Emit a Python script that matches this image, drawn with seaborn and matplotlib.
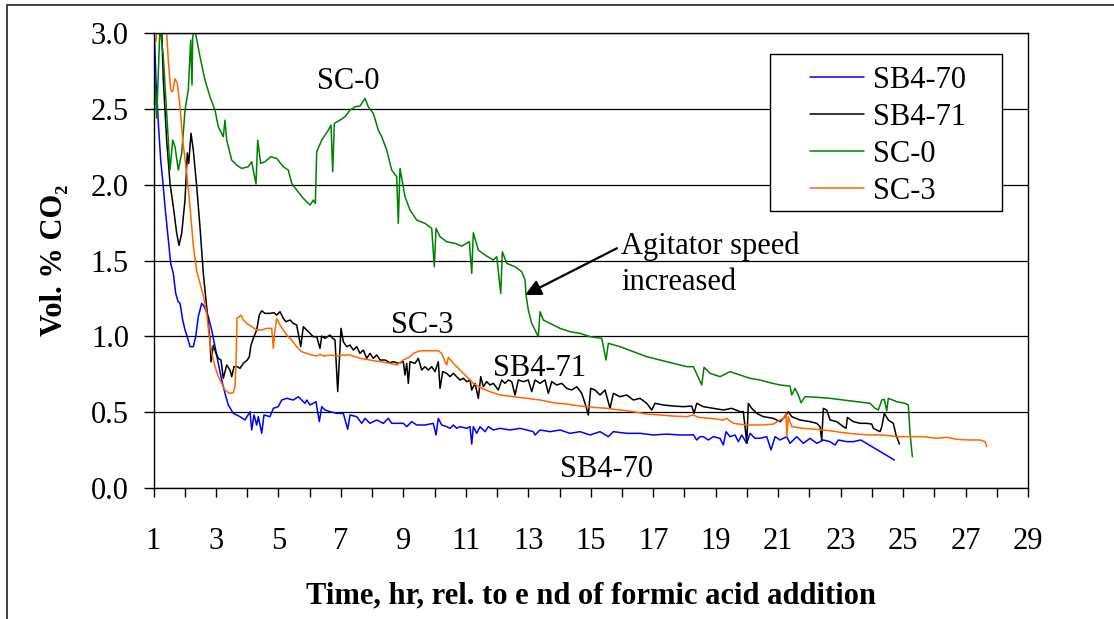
import numpy as np
import pandas as pd
import matplotlib
matplotlib.use("Agg")
import matplotlib.pyplot as plt
import seaborn as sns
from matplotlib.patches import Rectangle
from matplotlib.legend_handler import HandlerLine2D

# ---------------- data ----------------
sb470_t = [1.0, 1.080, 1.154, 1.231, 1.295, 1.368, 1.474, 1.551, 1.634, 1.711, 1.785, 1.849, 1.935,
           2.009, 2.082, 2.169, 2.274, 2.351, 2.434, 2.543, 2.627, 2.755, 2.864, 2.969, 3.075, 3.184,
           3.289, 3.395, 3.555, 3.770, 3.930, 4.090, 4.144, 4.218, 4.304, 4.356, 4.465, 4.538, 4.730,
           4.836, 4.996, 5.105, 5.265, 5.476, 5.637, 5.745, 5.851, 5.906, 6.011, 6.203, 6.309, 6.386,
           6.492, 6.652, 6.866, 7.078, 7.218, 7.292, 7.507, 7.667, 7.772, 7.932, 8.147, 8.358, 8.518,
           8.627, 8.839, 8.999, 9.107, 9.268, 9.428, 9.694, 9.959, 10.046, 10.119, 10.228, 10.389,
           10.494, 10.600, 10.709, 10.814, 11.029, 11.134, 11.189, 11.240, 11.349, 11.455, 11.615,
           11.720, 11.881, 12.095, 12.415, 12.736, 13.161, 13.216, 13.376, 13.696, 14.016, 14.336,
           14.657, 14.977, 15.297, 15.563, 15.723, 16.152, 16.578, 17.004, 17.433, 17.859, 18.179,
           18.285, 18.393, 18.499, 18.605, 18.765, 18.925, 19.140, 19.245, 19.332, 19.460, 19.620,
           19.726, 19.834, 19.994, 20.100, 20.260, 20.420, 20.635, 20.773, 20.901, 21.061, 21.275,
           21.381, 21.595, 21.807, 22.021, 22.236, 22.447, 22.662, 22.822, 22.928, 23.197, 23.408,
           23.645, 24.721]
sb470_v = [3.15, 2.69, 2.41, 2.16, 2.03, 1.855, 1.635, 1.48, 1.415, 1.283, 1.23, 1.217, 1.107,
           1.041, 0.997, 0.931, 0.931, 0.997, 1.129, 1.217, 1.195, 1.129, 1.041, 0.931, 0.821, 0.711,
           0.623, 0.546, 0.491, 0.469, 0.447, 0.502, 0.381, 0.48, 0.414, 0.469, 0.359, 0.48, 0.469,
           0.524, 0.535, 0.579, 0.59, 0.579, 0.601, 0.579, 0.557, 0.579, 0.546, 0.568, 0.436, 0.535,
           0.513, 0.502, 0.491, 0.491, 0.385, 0.48, 0.469, 0.425, 0.458, 0.425, 0.447, 0.425, 0.458,
           0.425, 0.425, 0.425, 0.403, 0.436, 0.414, 0.414, 0.425, 0.348, 0.458, 0.414, 0.403,
           0.392, 0.414, 0.392, 0.403, 0.392, 0.403, 0.288, 0.403, 0.359, 0.403, 0.37,
           0.403, 0.381, 0.392, 0.381, 0.392, 0.37, 0.348, 0.381, 0.37, 0.381, 0.359,
           0.37, 0.348, 0.37, 0.337, 0.37, 0.359, 0.359, 0.348, 0.354, 0.348, 0.348,
           0.35, 0.315, 0.337, 0.337, 0.315, 0.337, 0.326, 0.282, 0.37, 0.337, 0.348,
           0.304, 0.348, 0.293, 0.359, 0.326, 0.326, 0.337, 0.249, 0.337, 0.315, 0.337,
           0.293, 0.337, 0.293, 0.326, 0.293, 0.315, 0.304, 0.282, 0.315, 0.304, 0.304,
           0.315, 0.183]

sb471_t = [1.0, 1.26, 1.314, 1.423, 1.528, 1.634, 1.743, 1.817, 1.903, 2.009, 2.082, 2.127, 2.201,
           2.274, 2.383, 2.489, 2.595, 2.703, 2.809, 2.841, 2.915, 3.001, 3.075, 3.161, 3.235, 3.344,
           3.450, 3.504, 3.578, 3.683, 3.770, 3.875, 4.003, 4.068, 4.122, 4.196, 4.304, 4.388, 4.465,
           4.570, 4.730, 4.858, 4.945, 5.051, 5.156, 5.243, 5.371, 5.476, 5.585, 5.713, 5.797, 5.906,
           6.011, 6.117, 6.226, 6.331, 6.386, 6.492, 6.652, 6.738, 6.812, 6.898, 7.004, 7.078, 7.186,
           7.292, 7.398, 7.507, 7.612, 7.718, 7.827, 7.932, 8.038, 8.147, 8.253, 8.413, 8.573, 8.679,
           8.839, 8.999, 9.053, 9.107, 9.159, 9.213, 9.373, 9.479, 9.588, 9.694, 9.799, 9.908, 10.014,
           10.119, 10.174, 10.260, 10.389, 10.494, 10.600, 10.709, 10.814, 10.920, 11.029, 11.134,
           11.189, 11.295, 11.400, 11.477, 11.560, 11.669, 11.775, 11.881, 12.041, 12.149, 12.255,
           12.361, 12.470, 12.575, 12.681, 12.841, 13.001, 13.110, 13.216, 13.376, 13.536, 13.642,
           13.751, 13.911, 14.071, 14.231, 14.391, 14.551, 14.711, 14.817, 14.922, 14.999, 15.137,
           15.297, 15.457, 15.617, 15.723, 15.938, 16.152, 16.364, 16.578, 16.792, 16.952, 17.058,
           17.324, 17.644, 17.964, 18.233, 18.307, 18.393, 18.605, 18.925, 19.245, 19.514, 19.780,
           19.885, 19.940, 19.994, 20.045, 20.154, 20.314, 20.526, 20.846, 21.061, 21.221, 21.326,
           21.435, 21.701, 22.021, 22.236, 22.341, 22.396, 22.447, 22.556, 22.662, 22.876, 23.088,
           23.175, 23.216, 23.408, 23.623, 23.837, 23.997, 24.048, 24.262, 24.318, 24.400, 24.528,
           24.688, 24.775, 24.881]
sb471_v = [3.3, 3.05, 2.69, 2.29, 2.01, 1.855, 1.68, 1.60, 1.68, 1.90, 2.21, 2.14, 2.34,
           2.23, 1.99, 1.72, 1.415, 1.195, 0.975, 0.83, 0.94, 0.887, 0.854, 0.843, 0.722, 0.81,
           0.777, 0.733, 0.799, 0.799, 0.788, 0.821, 0.843, 0.865, 0.942, 0.986, 1.041, 1.14, 1.168,
           1.151, 1.151, 1.155, 1.14, 1.162, 1.118, 1.096, 1.107, 1.085, 1.074, 0.931, 1.063, 1.041,
           1.019, 0.997, 0.997, 0.92, 1.001, 0.986, 1.008, 0.986, 0.975, 0.634, 1.052, 0.964, 0.931,
           0.942, 0.909, 0.931, 0.887, 0.909, 0.854, 0.887, 0.854, 0.876, 0.843, 0.843, 0.825, 0.832,
           0.821, 0.832, 0.744, 0.821, 0.689, 0.832, 0.821, 0.854, 0.777, 0.799, 0.777, 0.799, 0.766,
           0.832, 0.656, 0.766, 0.755, 0.733, 0.755, 0.733, 0.711, 0.722, 0.70, 0.711,
           0.645, 0.689, 0.59, 0.733, 0.667, 0.70, 0.678, 0.689, 0.645, 0.711, 0.689,
           0.711, 0.70, 0.612, 0.711, 0.70, 0.711, 0.634, 0.711, 0.689, 0.711, 0.623,
           0.70, 0.678, 0.689, 0.656, 0.645, 0.667, 0.623, 0.557, 0.48, 0.656, 0.645,
           0.612, 0.645, 0.524, 0.623, 0.601, 0.612, 0.579, 0.59, 0.557, 0.513, 0.557,
           0.546, 0.539, 0.535, 0.539, 0.491, 0.557, 0.535, 0.524, 0.513, 0.524, 0.502,
           0.502, 0.403, 0.293, 0.557, 0.524, 0.491, 0.469, 0.458, 0.436, 0.469, 0.502,
           0.469, 0.447, 0.436, 0.425, 0.403, 0.315, 0.524, 0.513, 0.447, 0.436, 0.403,
           0.392, 0.464, 0.436, 0.425, 0.425, 0.42, 0.392, 0.37, 0.403, 0.491, 0.447,
           0.425, 0.348, 0.288]

sc0_t = [1.0, 1.016, 1.102, 1.208, 1.314, 1.474, 1.528, 1.615, 1.688, 1.794, 1.903, 2.009, 2.114,
         2.191, 2.233, 2.255, 2.329, 2.489, 2.649, 2.809, 2.969, 3.075, 3.235, 3.289, 3.344, 3.504,
         3.664, 3.824, 4.035, 4.144, 4.282, 4.336, 4.432, 4.570, 4.753, 4.945, 5.156, 5.316, 5.425,
         5.585, 5.797, 6.011, 6.117, 6.181, 6.226, 6.386, 6.597, 6.684, 6.738, 6.789, 6.972, 7.132,
         7.292, 7.452, 7.612, 7.772, 7.878, 8.038, 8.198, 8.307, 8.467, 8.627, 8.787, 8.838, 8.893,
         9.053, 9.213, 9.428, 9.694, 9.908, 9.991, 10.046, 10.174, 10.389, 10.654, 10.869, 11.112,
         11.189, 11.240, 11.400, 11.615, 11.881, 11.989, 12.118, 12.169, 12.310, 12.575, 12.790,
         12.896, 12.928, 13.001, 13.110, 13.216, 13.322, 13.376, 13.482, 13.696, 14.016, 14.336,
         14.657, 14.977, 15.352, 15.489, 15.563, 15.938, 16.364, 16.792, 17.433, 18.073, 18.285,
         18.554, 18.627, 18.820, 19.140, 19.460, 19.780, 20.100, 20.420, 20.740, 21.061, 21.381,
         21.435, 21.541, 21.646, 21.733, 21.861, 22.236, 22.662, 23.088, 23.517, 23.943, 24.103,
         24.209, 24.318, 24.400, 24.477, 24.528, 24.797, 25.063, 25.169, 25.223, 25.297]
sc0_v = [2.95, 2.823, 2.44, 3.05, 2.845, 2.295, 2.097, 2.295, 2.251, 2.097, 2.209, 2.493, 2.625,
         2.955, 2.658, 2.977, 3.02, 2.845, 2.691, 2.581, 2.493, 2.383, 2.317, 2.427, 2.295, 2.163,
         2.130, 2.108, 2.119, 2.152, 2.005, 2.295, 2.141, 2.152, 2.185, 2.174, 2.119, 2.097, 2.009,
         1.965, 1.910, 1.866, 1.899, 1.877, 2.218, 2.295, 2.361, 2.394, 2.086, 2.405, 2.427, 2.449,
         2.493, 2.515, 2.520, 2.570, 2.515, 2.471, 2.361, 2.317, 2.229, 2.097, 2.053, 1.745, 2.108,
         1.921, 1.833, 1.767, 1.745, 1.712, 1.459, 1.712, 1.657, 1.624, 1.613, 1.595, 1.624,
         1.415, 1.683, 1.569, 1.536, 1.503, 1.525, 1.283, 1.558, 1.481, 1.459, 1.426,
         1.371, 1.272, 1.173, 1.085, 1.041, 0.997, 1.162, 1.107, 1.085, 1.052, 1.030,
         1.019, 0.997, 0.986, 0.843, 0.953, 0.931, 0.898, 0.865, 0.832, 0.799, 0.799,
         0.678, 0.795, 0.755, 0.733, 0.766, 0.744, 0.722, 0.711, 0.693, 0.678, 0.671,
         0.612, 0.656, 0.612, 0.561, 0.601, 0.597, 0.590, 0.579, 0.568, 0.557, 0.524,
         0.513, 0.579, 0.583, 0.508, 0.590, 0.568, 0.557, 0.546, 0.359, 0.205]

sc3_t = [1.0, 1.08, 1.15, 1.35, 1.423, 1.474, 1.551, 1.615, 1.688, 1.762, 1.849, 1.935, 2.063,
         2.169, 2.274, 2.383, 2.489, 2.595, 2.703, 2.787, 2.864, 2.969, 3.075, 3.184, 3.289, 3.427,
         3.555, 3.610, 3.642, 3.674, 3.747, 3.802, 3.875, 3.984, 4.144, 4.304, 4.465, 4.625, 4.785,
         4.836, 4.891, 4.945, 5.051, 5.156, 5.265, 5.425, 5.585, 5.745, 5.906, 6.066, 6.226, 6.331,
         6.437, 6.652, 6.866, 7.026, 7.292, 7.612, 7.932, 8.253, 8.573, 8.787, 8.999, 9.213, 9.319,
         9.533, 9.853, 10.119, 10.228, 10.334, 10.389, 10.440, 10.600, 10.814, 11.029, 11.240,
         11.509, 11.775, 12.095, 12.521, 12.950, 13.376, 13.802, 14.231, 14.657, 15.082, 15.511,
         15.938, 16.364, 16.792, 17.219, 17.644, 18.073, 18.285, 18.445, 18.820, 19.245, 19.352,
         19.565, 19.994, 20.526, 20.846, 21.061, 21.166, 21.253, 21.275, 21.326, 21.435, 21.807,
         22.236, 22.662, 23.088, 23.517, 23.943, 24.368, 24.797, 25.223, 25.649, 26.078, 26.398,
         26.718, 27.144, 27.464, 27.625, 27.679]
sc3_v = [2.92, 2.95, 3.1, 3.1, 3.0, 2.82, 2.625, 2.614, 2.70, 2.67, 2.515, 2.295, 2.075,
         1.855, 1.60, 1.43, 1.349, 1.27, 1.15, 0.997, 0.887, 0.799, 0.733, 0.689, 0.645, 0.623,
         0.627, 0.667, 0.821, 1.118, 1.129, 1.14, 1.107, 1.085, 1.063, 1.041, 1.041, 1.052, 1.052,
         0.92, 1.041, 1.118, 1.074, 1.041, 1.008, 0.975, 0.931, 0.898, 0.887, 0.876, 0.869, 0.882,
         0.869, 0.876, 0.869, 0.876, 0.876, 0.854, 0.843, 0.832, 0.821, 0.81, 0.843, 0.865, 0.887,
         0.904, 0.904, 0.904, 0.887, 0.832, 0.81, 0.861, 0.821, 0.777, 0.733, 0.689,
         0.656, 0.634, 0.612, 0.601, 0.59, 0.579, 0.561, 0.552, 0.539, 0.531, 0.524,
         0.513, 0.502, 0.486, 0.48, 0.473, 0.469, 0.48, 0.465, 0.458, 0.447, 0.458,
         0.425, 0.414, 0.414, 0.42, 0.447, 0.458, 0.491, 0.337, 0.469, 0.403, 0.392,
         0.385, 0.376, 0.363, 0.354, 0.348, 0.348, 0.337, 0.337, 0.337, 0.326, 0.333,
         0.319, 0.315, 0.315, 0.304, 0.271]

series_names = ["SB4-70", "SB4-71", "SC-0", "SC-3"]
series_colors = ["#0000FF", "#000000", "#008000", "#FF6600"]
x_ticks = list(range(1, 30))
x_tick_labels = [str(v) if v % 2 == 1 else "" for v in x_ticks]
y_ticks = [0.0, 0.5, 1.0, 1.5, 2.0, 2.5, 3.0]
y_tick_labels = ["%.1f" % v for v in y_ticks]

# ---------------- styling ----------------
sns.set_style("ticks")
plt.rcParams["font.family"] = ["Liberation Serif", "DejaVu Serif"]
for k in ["text.color", "axes.labelcolor", "xtick.color", "ytick.color", "axes.edgecolor"]:
    plt.rcParams[k] = "black"
FS = 22

W, H = 1114, 619
fig = plt.figure(figsize=(W / 100, H / 100), dpi=100)
ax = fig.add_axes([153.5 / W, 1 - 487.7 / H, (1028 - 153.5) / W, (487.7 - 33.3) / H])

series = [(sb470_t, sb470_v), (sb471_t, sb471_v), (sc0_t, sc0_v), (sc3_t, sc3_v)]
for (t, v), name, col in zip(series, series_names, series_colors):
    df = pd.DataFrame({"t": t, "v": v})
    sns.lineplot(data=df, x="t", y="v", ax=ax, color=col, lw=1.1, label=name,
                 estimator=None, sort=False)

ax.set_xlim(1, 29)
ax.set_ylim(0, 3.0)
ax.set_xticks(x_ticks)
ax.set_xticklabels(x_tick_labels)
ax.set_yticks(y_ticks)
ax.set_yticklabels(y_tick_labels)
ax.tick_params(axis="y", direction="out", length=7.2, width=1, pad=10.5, labelsize=FS,
               color="black", labelcolor="black")
ax.tick_params(axis="x", direction="out", length=6.5, width=1, pad=22, labelsize=FS,
               color="black", labelcolor="black")
ax.yaxis.grid(True, color="black", lw=0.9)
ax.xaxis.grid(False)
ax.set_axisbelow(True)
for s in ax.spines.values():
    s.set_visible(True)
    s.set_color("black")
    s.set_linewidth(1.0)

ax.set_xlabel("Time, hr, rel. to e nd of formic acid addition", fontsize=FS, fontweight="bold",
              color="black")
ax.xaxis.set_label_coords(0.5, -(581 - 487.7) / (487.7 - 33.3))
ax.set_ylabel("Vol. % CO\u2082", fontsize=FS, fontweight="bold", color="black")
ax.yaxis.set_label_coords((69 - 153.5) / (1028 - 153.5), 0.5)

# series labels
ax.text(7.23, 2.685, "SC-0", fontsize=FS, ha="center", va="center")
ax.text(9.60, 1.07, "SC-3", fontsize=FS, ha="center", va="center")
ax.text(13.375, 0.79, "SB4-71", fontsize=FS, ha="center", va="center")
ax.text(15.49, 0.12, "SB4-70", fontsize=FS, ha="center", va="center")

# agitator annotation
ax.annotate("", xy=(12.896, 1.272), xytext=(15.84, 1.581),
            arrowprops=dict(arrowstyle="-|>", color="black", lw=1.6, mutation_scale=24,
                            shrinkA=0, shrinkB=0))
ax.text(15.97, (487.7 - 290) / 151.5, "Agitator speed\nincreased", fontsize=FS,
        ha="left", va="baseline", linespacing=1.3)

# legend
if ax.get_legend():
    ax.get_legend().remove()
leg_box = Rectangle((770 / W, 1 - 211 / H), 232 / W, 157 / H, transform=fig.transFigure,
                    facecolor="white", edgecolor="black", lw=1.0, zorder=4)
fig.patches.append(leg_box)
fs_px = FS * 100 / 72
handles, labels = ax.get_legend_handles_labels()
leg = fig.legend(handles, labels, loc="upper left", bbox_to_anchor=(778 / W, 1 - 66 / H),
                 frameon=False, fontsize=FS, borderpad=0, borderaxespad=0,
                 handlelength=(864 - 778) / fs_px, handletextpad=(873 - 864) / fs_px,
                 labelspacing=0.26,
                 handler_map={h: HandlerLine2D(xpad=(810 - 778) / fs_px) for h in handles})
leg.set_zorder(5)

# outer frame
fig.patches.append(Rectangle((7 / W, -0.05), 1.2, 1 - 5 / H + 0.05, transform=fig.transFigure,
                             fill=False, edgecolor="#333333", lw=1.3, zorder=0))

fig.savefig("out.png", dpi=100)
